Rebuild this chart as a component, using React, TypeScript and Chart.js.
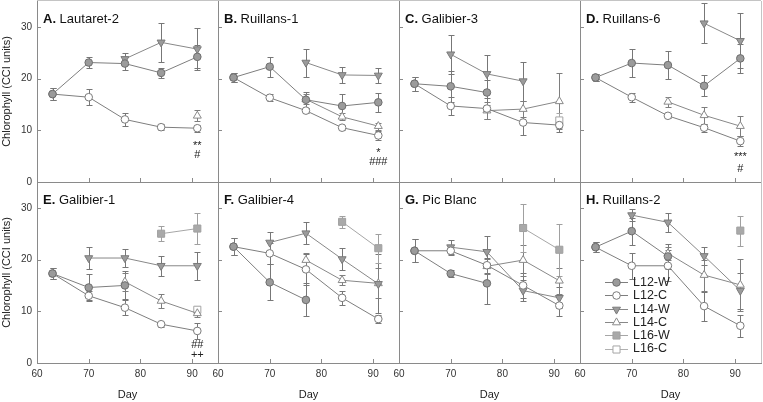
import React, { useEffect, useRef } from 'react';
import { Chart, registerables } from 'chart.js';
Chart.register(...registerables);

const N = null;
const DAYS = [63, 70, 77, 84, 91];
const X_TICKS = [60, 70, 80, 90];
const Y_TICKS = [0, 10, 20, 30];
const SERIES_NAMES = ['L12-W', 'L12-C', 'L14-W', 'L14-C', 'L16-W', 'L16-C'];
const PANEL_LETTERS = ['A', 'B', 'C', 'D', 'E', 'F', 'G', 'H'];
const PANEL_SITES = ['Lautaret-2', 'Ruillans-1', 'Galibier-3', 'Ruillans-6', 'Galibier-1', 'Galibier-4', 'Pic Blanc', 'Ruillans-2'];

// rows: L12-W, L12-C, L14-W, L14-C, L16-W, L16-C ; columns: DAYS
const A_MEAN = [
  [17.0, 23.1, 22.9, 21.1, 24.2],
  [17.0, 16.4, 12.1, 10.6, 10.4],
  [N, N, 23.8, 27.0, 25.7],
  [N, N, N, N, 12.8],
  [N, N, N, N, N],
  [N, N, N, N, N],
];
const A_ERR = [
  [1.1, 1.1, 1.2, 0.9, 2.2],
  [1.1, 1.5, 1.2, 0.6, 0.7],
  [N, N, 1.1, 3.8, 4.0],
  [N, N, N, N, 1.1],
  [N, N, N, N, N],
  [N, N, N, N, N],
];
const B_MEAN = [
  [20.2, 22.3, 15.9, 14.7, 15.4],
  [20.2, 16.3, 13.8, 10.5, 9.0],
  [N, N, 23.1, 20.7, 20.6],
  [N, N, 16.0, 12.6, 10.8],
  [N, N, N, N, N],
  [N, N, N, N, N],
];
const B_ERR = [
  [0.9, 1.9, 1.6, 2.3, 1.8],
  [0.9, 0.7, 0.5, 0.4, 0.9],
  [N, N, 2.7, 1.6, 1.4],
  [N, N, 1.0, 0.7, 0.7],
  [N, N, N, N, N],
  [N, N, N, N, N],
];
const C_MEAN = [
  [19.0, 18.5, 17.3, N, N],
  [19.0, 14.7, 14.2, 11.5, 11.0],
  [N, 24.7, 20.9, 19.5, N],
  [N, N, 13.8, 14.1, 15.6],
  [N, N, N, N, N],
  [N, N, N, N, 11.9],
];
const C_ERR = [
  [1.4, 3.0, 2.4, N, N],
  [1.4, 1.8, 2.0, 2.4, 1.4],
  [N, 3.8, 3.7, 3.8, N],
  [N, N, 1.6, 1.5, 5.4],
  [N, N, N, N, N],
  [N, N, N, N, 1.5],
];
const D_MEAN = [
  [20.2, 23.0, 22.6, 18.6, 23.9],
  [20.2, 16.4, 12.8, 10.5, 7.9],
  [N, N, N, 30.7, 27.3],
  [N, N, 15.5, 12.9, 10.8],
  [N, N, N, N, N],
  [N, N, N, N, N],
];
const D_ERR = [
  [0.7, 2.7, 2.7, 2.0, 2.8],
  [0.7, 0.9, 0.5, 0.8, 0.9],
  [N, N, N, 3.9, 5.3],
  [N, N, 1.0, 1.6, 1.9],
  [N, N, N, N, N],
  [N, N, N, N, N],
];
const E_MEAN = [
  [17.3, 14.6, 15.0, N, N],
  [17.3, 13.0, 10.7, 7.5, 6.2],
  [N, 20.3, 20.3, 18.8, 18.8],
  [N, N, 15.7, 12.0, 9.6],
  [N, N, N, 25.0, 26.0],
  [N, N, N, N, 10.3],
];
const E_ERR = [
  [1.1, 2.7, 2.7, N, N],
  [1.1, 0.9, 1.4, 0.5, 1.5],
  [N, 2.2, 1.7, 1.9, 2.7],
  [N, N, 1.8, 1.4, 0.7],
  [N, N, N, 1.5, 3.0],
  [N, N, N, N, 0.7],
];
const F_MEAN = [
  [22.5, 15.6, 12.2, N, N],
  [22.5, 21.2, 18.1, 12.6, 8.5],
  [N, 23.3, 25.1, 20.1, 15.3],
  [N, N, 19.9, 16.0, 15.4],
  [N, N, N, 27.3, 22.2],
  [N, N, N, N, N],
];
const F_ERR = [
  [1.6, 3.5, 3.2, N, N],
  [1.6, 2.0, 3.0, 1.4, 0.7],
  [N, 2.0, 2.1, 2.2, 5.7],
  [N, N, 1.4, 1.0, 2.9],
  [N, N, N, 1.2, 2.8],
  [N, N, N, N, N],
];
const G_MEAN = [
  [21.7, 17.3, 15.4, N, N],
  [21.7, 21.7, 18.9, 15.0, 11.1],
  [N, 22.4, 21.5, 14.0, 12.6],
  [N, N, 18.7, 19.9, 15.9],
  [N, N, N, 26.1, 21.9],
  [N, N, N, N, N],
];
const G_ERR = [
  [2.2, 0.6, 3.9, N, N],
  [2.2, 0.8, 1.5, 2.5, 2.1],
  [N, 1.3, 3.0, 2.0, 2.0],
  [N, N, 1.5, 3.0, 2.5],
  [N, N, N, 4.7, 5.0],
  [N, N, N, N, N],
];
const H_MEAN = [
  [22.4, 25.5, 20.6, N, N],
  [22.4, 18.8, 18.8, 11.0, 7.2],
  [N, 28.6, 27.2, 20.7, 14.0],
  [N, N, 21.2, 17.0, 15.1],
  [N, N, N, N, 25.6],
  [N, N, N, N, N],
];
const H_ERR = [
  [1.0, 2.6, 2.5, N, N],
  [1.0, 2.5, 3.0, 2.8, 2.1],
  [N, 1.1, 1.8, 1.8, 3.5],
  [N, N, 1.2, 3.0, 5.0],
  [N, N, N, N, 2.9],
  [N, N, N, N, N],
];
const PANEL_MEANS = [A_MEAN, B_MEAN, C_MEAN, D_MEAN, E_MEAN, F_MEAN, G_MEAN, H_MEAN];
const PANEL_ERRS = [A_ERR, B_ERR, C_ERR, D_ERR, E_ERR, F_ERR, G_ERR, H_ERR];

// significance marks: [text, y value] at day 91
const A_MARKS = [['**', 6.9], ['#', 5.2]];
const B_MARKS = [['*', 5.7], ['###', 3.9]];
const D_MARKS = [['***', 4.8], ['#', 2.6]];
const E_MARKS = [['##', 3.4], ['++', 1.5]];
const PANEL_MARKS: any[] = [A_MARKS, B_MARKS, [], D_MARKS, E_MARKS, [], [], []];
const MARK_DAY = 91;

const FONT = '"Liberation Sans", Arial, Helvetica, sans-serif';
const AXIS = '#8a8a8a';

const STYLES = [
  { shape: 'circle', rot: 0, r: 3.8, fill: '#9b9b9b', stroke: '#6e6e6e', line: '#7e7e7e', err: '#777777' },
  { shape: 'circle', rot: 0, r: 3.8, fill: '#ffffff', stroke: '#7a7a7a', line: '#7e7e7e', err: '#777777' },
  { shape: 'triangle', rot: 180, r: 4.6, fill: '#9b9b9b', stroke: '#7a7a7a', line: '#888888', err: '#777777' },
  { shape: 'triangle', rot: 0, r: 4.6, fill: '#ffffff', stroke: '#8a8a8a', line: '#888888', err: '#7e7e7e' },
  { shape: 'rect', rot: 0, r: 5, fill: '#a9a9a9', stroke: '#a0a0a0', line: '#a6a6a6', err: '#a0a0a0' },
  { shape: 'rect', rot: 0, r: 5, fill: '#ffffff', stroke: '#a6a6a6', line: '#b0b0b0', err: '#a6a6a6' },
];

const COL_LEFT = [37, 218, 399, 580];
const ROW_TOP = [1, 182];
const PLOT_W = 181;
const PLOT_H = 181;

function drawMarker(ctx: CanvasRenderingContext2D, st: any, x: number, y: number) {
  ctx.beginPath();
  if (st.shape === 'circle') {
    ctx.arc(x, y, st.r, 0, Math.PI * 2);
  } else if (st.shape === 'rect') {
    const s = st.r * Math.SQRT1_2;
    ctx.rect(x - s, y - s, 2 * s, 2 * s);
  } else {
    let rad = (st.rot * Math.PI) / 180;
    for (let k = 0; k < 3; k++) {
      const px = x + Math.sin(rad) * st.r;
      const py = y - Math.cos(rad) * st.r;
      if (k === 0) ctx.moveTo(px, py);
      else ctx.lineTo(px, py);
      rad += (2 * Math.PI) / 3;
    }
    ctx.closePath();
  }
  ctx.fillStyle = st.fill;
  ctx.fill();
  ctx.strokeStyle = st.stroke;
  ctx.lineWidth = 1;
  ctx.stroke();
}

const errorBarPlugin = {
  id: 'errbars',
  beforeDatasetsDraw(chart: any) {
    const ctx = chart.ctx;
    const ys = chart.scales.y;
    chart.data.datasets.forEach((ds: any, i: number) => {
      const meta = chart.getDatasetMeta(i);
      ctx.save();
      ctx.strokeStyle = ds.errColor;
      ctx.lineWidth = 1;
      ctx.beginPath();
      meta.data.forEach((pt: any, j: number) => {
        const e = ds.errs[j];
        if (e == null) return;
        const m = ds.data[j].y;
        const top = Math.round(ys.getPixelForValue(m + e)) + 0.5;
        const bot = Math.round(ys.getPixelForValue(m - e)) + 0.5;
        const x = Math.round(pt.x) + 0.5;
        ctx.moveTo(x, top);
        ctx.lineTo(x, bot);
        ctx.moveTo(x - 3, top);
        ctx.lineTo(x + 3, top);
        ctx.moveTo(x - 3, bot);
        ctx.lineTo(x + 3, bot);
      });
      ctx.stroke();
      ctx.restore();
    });
  },
};

const decorPlugin = {
  id: 'decor',
  afterDraw(chart: any, _args: any, opts: any) {
    const { ctx, chartArea: a, scales } = chart;
    ctx.save();
    ctx.strokeStyle = AXIS;
    ctx.lineWidth = 1;
    ctx.beginPath();
    [10, 20, 30].forEach((v) => {
      const yy = Math.round(scales.y.getPixelForValue(v)) + 0.5;
      ctx.moveTo(a.left, yy);
      ctx.lineTo(a.left + 4, yy);
    });
    [70, 80, 90].forEach((v) => {
      const xx = Math.round(scales.x.getPixelForValue(v)) + 0.5;
      ctx.moveTo(xx, a.bottom);
      ctx.lineTo(xx, a.bottom - 4);
    });
    ctx.stroke();
    ctx.strokeStyle = '#c4c4c4';
    ctx.beginPath();
    if (opts.edgeTop) {
      ctx.moveTo(a.left, a.top - 0.5);
      ctx.lineTo(a.right, a.top - 0.5);
    }
    if (opts.edgeRight) {
      ctx.moveTo(a.right + 0.5, a.top);
      ctx.lineTo(a.right + 0.5, a.bottom);
    }
    ctx.stroke();

    // panel title
    ctx.fillStyle = '#111';
    ctx.textBaseline = 'alphabetic';
    ctx.textAlign = 'left';
    ctx.font = 'bold 13px ' + FONT;
    const lx = a.left + 6;
    const ly = a.top + 22;
    const lab = opts.letter + '.';
    ctx.fillText(lab, lx, ly);
    const w = ctx.measureText(lab).width;
    ctx.font = '13px ' + FONT;
    ctx.fillText(' ' + opts.site, lx + w, ly);

    // significance marks
    ctx.font = '11px ' + FONT;
    ctx.textAlign = 'center';
    ctx.textBaseline = 'middle';
    ctx.fillStyle = '#222';
    (opts.marks || []).forEach((m: any) => {
      ctx.fillText(m[0], scales.x.getPixelForValue(MARK_DAY), scales.y.getPixelForValue(m[1]));
    });

    // legend
    if (opts.legend) {
      ctx.font = '12.5px ' + FONT;
      ctx.textAlign = 'left';
      ctx.textBaseline = 'middle';
      SERIES_NAMES.forEach((name, k) => {
        const st = STYLES[k];
        const y = a.top + 100 + k * 13.3;
        ctx.strokeStyle = st.line;
        ctx.lineWidth = 1;
        ctx.beginPath();
        ctx.moveTo(a.left + 25, Math.round(y) + 0.5);
        ctx.lineTo(a.left + 48, Math.round(y) + 0.5);
        ctx.stroke();
        drawMarker(ctx, st, a.left + 36.5, Math.round(y) + 0.5);
        ctx.fillStyle = '#222';
        ctx.fillText(name, a.left + 53, y + 0.5);
      });
    }
    ctx.restore();
  },
};

function Panel({ idx }: { idx: number }) {
  const ref = useRef<HTMLCanvasElement>(null);
  const r = Math.floor(idx / 4);
  const c = idx % 4;
  const padL = c === 0 ? 37 : 14;
  const padR = c === 3 ? 2 : 4;
  const padT = r === 0 ? 1 : 4;
  const padB = r === 1 ? 39 : 6;
  const W = PLOT_W + padL + padR;
  const H = PLOT_H + padT + padB;
  const left = COL_LEFT[c] - padL;
  const top = ROW_TOP[r] - padT;

  useEffect(() => {
    if (!ref.current) return;
    const means = PANEL_MEANS[idx];
    const errs = PANEL_ERRS[idx];
    const datasets = SERIES_NAMES.map((name, k) => {
      const st = STYLES[k];
      const pts: any[] = [];
      const es: any[] = [];
      DAYS.forEach((d, j) => {
        const v = means[k][j];
        if (v == null) return;
        pts.push({ x: d, y: v });
        es.push(errs[k][j]);
      });
      return {
        label: name,
        data: pts,
        errs: es,
        errColor: st.err,
        borderColor: st.line,
        borderWidth: 1,
        backgroundColor: st.fill,
        pointStyle: st.shape,
        pointRotation: st.rot,
        pointRadius: st.r,
        pointBackgroundColor: st.fill,
        pointBorderColor: st.stroke,
        pointBorderWidth: 1,
        fill: false,
        tension: 0,
        showLine: true,
      };
    });
    const showX = r === 1;
    const showY = c === 0;
    const tickFont = { family: FONT, size: 10 };
    const titleFont = { family: FONT, size: 11 };
    const chart = new Chart(ref.current, {
      type: 'line',
      data: { datasets: datasets as any },
      options: {
        responsive: false,
        maintainAspectRatio: false,
        animation: false,
        devicePixelRatio: 1,
        layout: { padding: { top: padT, right: padR, left: 0, bottom: 0 }, autoPadding: false },
        plugins: {
          legend: { display: false },
          tooltip: { enabled: false },
          decor: {
            letter: PANEL_LETTERS[idx],
            site: PANEL_SITES[idx],
            marks: PANEL_MARKS[idx],
            legend: idx === 7,
            edgeTop: r === 0,
            edgeRight: c === 3,
          },
        } as any,
        scales: {
          x: {
            type: 'linear',
            min: 60,
            max: 95,
            afterBuildTicks: (s: any) => {
              s.ticks = X_TICKS.map((v) => ({ value: v }));
            },
            afterFit: (s: any) => {
              s.height = padB;
              s.paddingLeft = 0;
              s.paddingRight = 0;
              s.paddingTop = 0;
              s.paddingBottom = 0;
            },
            grid: { display: false, drawTicks: false },
            border: { display: true, color: AXIS, width: 1 },
            ticks: { display: showX, font: tickFont, color: '#333', padding: 5, maxRotation: 0, autoSkip: false },
            title: { display: showX, text: 'Day', font: titleFont, color: '#222', padding: { top: 0, bottom: 0 } },
          },
          y: {
            type: 'linear',
            min: 0,
            max: 35,
            afterBuildTicks: (s: any) => {
              s.ticks = Y_TICKS.map((v) => ({ value: v }));
            },
            afterFit: (s: any) => {
              s.width = padL;
              s.paddingLeft = 0;
              s.paddingRight = 0;
              s.paddingTop = 0;
              s.paddingBottom = 0;
            },
            grid: { display: false, drawTicks: false },
            border: { display: true, color: AXIS, width: 1 },
            ticks: { display: showY, font: tickFont, color: '#333', padding: 5, autoSkip: false },
            title: { display: showY, text: 'Chlorophyll (CCI units)', font: titleFont, color: '#222', padding: { top: 0, bottom: 0 } },
          },
        },
      } as any,
      plugins: [errorBarPlugin, decorPlugin] as any,
    });
    return () => chart.destroy();
  }, [idx]);

  return (
    <canvas
      ref={ref}
      width={W}
      height={H}
      style={{ position: 'absolute', left, top, width: W, height: H }}
    />
  );
}

export default function App() {
  return (
    <div
      style={{
        position: 'fixed',
        left: 0,
        top: 0,
        width: 763,
        height: 402,
        background: '#ffffff',
        overflow: 'hidden',
      }}
    >
      {PANEL_LETTERS.map((_, i) => (
        <Panel key={i} idx={i} />
      ))}
    </div>
  );
}
